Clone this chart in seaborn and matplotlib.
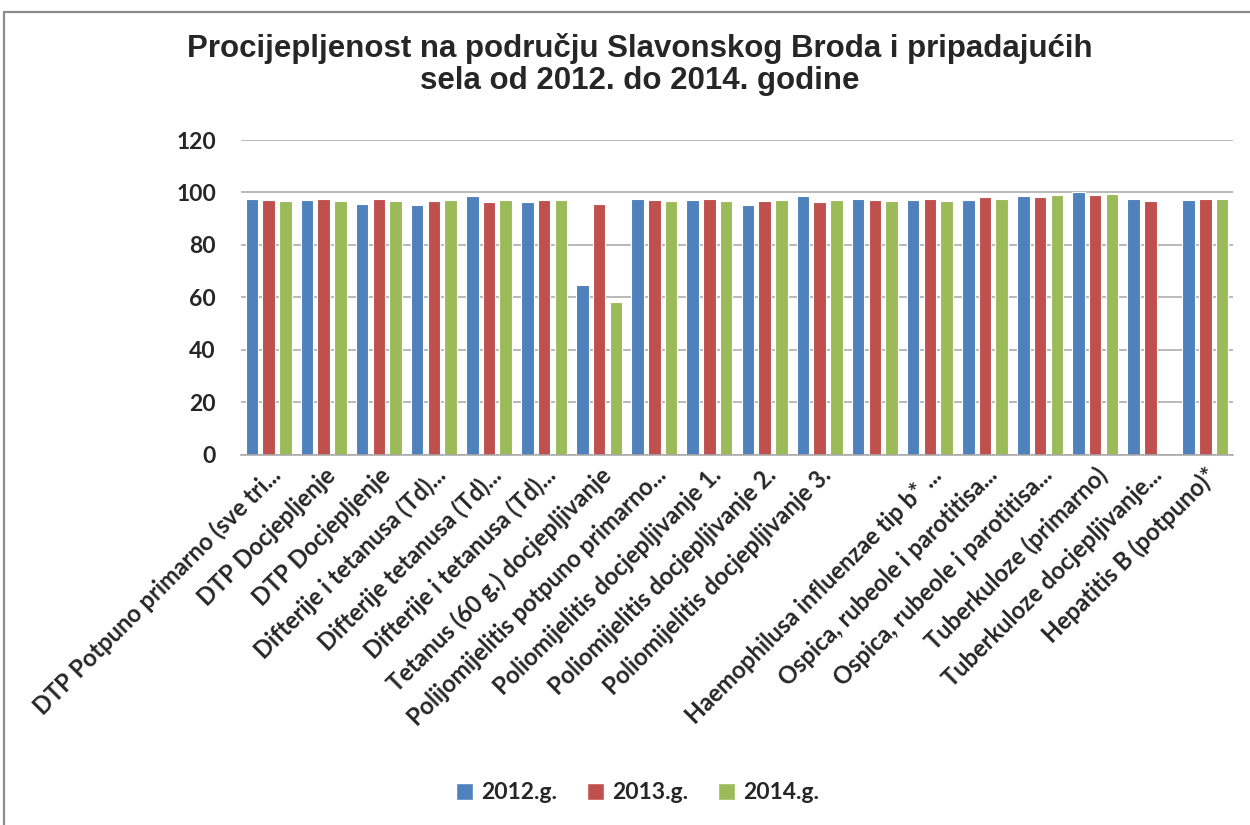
import numpy as np
import pandas as pd
import matplotlib
matplotlib.use("Agg")
import matplotlib.pyplot as plt
from matplotlib.lines import Line2D
import seaborn as sns

# Vaccination coverage (%) by vaccine, for three years
categories = [
    "DTP Potpuno primarno (sve tri...",
    "DTP Docjepljenje",
    "DTP Docjepljenje",
    "Difterije i tetanusa (Td)...",
    "Difterije tetanusa (Td)...",
    "Difterije i tetanusa (Td)...",
    "Tetanus (60 g.) docjepljivanje",
    "Polijomijelitis potpuno primarno...",
    "Poliomijelitis docjepljivanje 1.",
    "Poliomijelitis docjepljivanje 2.",
    "Poliomijelitis docjepljivanje 3.",
    " ",
    "Haemophilusa influenzae tip b* ...",
    "Ospica, rubeole i parotitisa...",
    "Ospica, rubeole i parotitisa...",
    "Tuberkuloze (primarno)",
    "Tuberkuloze docjepljivanje...",
    "Hepatitis B (potpuno)*",
]
years = ["2012.g.", "2013.g.", "2014.g."]
v2012 = [97.6, 97.1, 95.7, 95.2, 98.6, 96.2, 64.6, 97.6, 97.1, 95.2, 98.6, 97.6,
         97.1, 97.1, 98.6, 100.0, 97.6, 97.1]
v2013 = [97.1, 97.6, 97.6, 96.7, 96.2, 97.1, 95.7, 97.1, 97.6, 96.7, 96.2, 97.1,
         97.6, 98.1, 98.1, 99.1, 96.7, 97.6]
v2014 = [96.7, 96.7, 96.7, 97.1, 97.1, 97.1, 58.1, 96.7, 96.7, 97.1, 97.1, 96.7,
         96.7, 97.6, 99.1, 99.6, np.nan, 97.6]
colors = ["#4F81BD", "#C0504D", "#9BBB59"]

# Long-form table; category position used as key so repeated names stay separate
pos = list(range(len(categories)))
df = pd.DataFrame({
    "pos": pos * 3,
    "year": np.repeat(years, len(categories)),
    "value": v2012 + v2013 + v2014,
})

sns.set_style("white")
plt.rcParams["font.family"] = ["Lato", "DejaVu Sans"]

fig = plt.figure(figsize=(12.5, 8.25), dpi=100)
ax = fig.add_axes([0.1928, 0.4485, 0.7936, 0.3818])

sns.barplot(data=df, x="pos", y="value", hue="year", hue_order=years,
            palette=colors, saturation=1, width=0.91, gap=0.25,
            edgecolor="white", linewidth=0.8, errorbar=None, ax=ax, legend=True)

ax.set_ylim(0, 120)
ax.set_yticks(range(0, 121, 20))
ax.set_xlim(-0.5, len(categories) - 0.5)
ax.yaxis.grid(True, color="#A6A6A6", linewidth=1.1)
ax.set_axisbelow(True)
for side in ["left", "right", "top"]:
    ax.spines[side].set_visible(False)
ax.spines["bottom"].set_color("#A6A6A6")
ax.spines["bottom"].set_linewidth(1.1)
ax.set_xlabel("")
ax.set_ylabel("")
ax.tick_params(axis="both", length=0)
ax.tick_params(axis="y", pad=18)
for t in ax.get_yticklabels():
    t.set_fontsize(16.5)
    t.set_fontweight("bold")

ax.set_xticks(pos)
ax.set_xticklabels(categories, rotation=45, ha="right", va="top",
                   rotation_mode="anchor", fontsize=17, fontweight="bold")
ax.tick_params(axis="x", pad=6)

# Legend below the plot
ax.get_legend().remove()
handles = [plt.Rectangle((0, 0), 1, 1, facecolor=c, edgecolor="white") for c in colors]
fig.legend(handles, years, loc="center", bbox_to_anchor=(0.51, 0.039), ncol=3,
           frameon=False, handlelength=0.75, handleheight=0.75, handletextpad=0.35,
           columnspacing=1.3, prop={"weight": "bold", "size": 16.5})

# Title
fig.text(0.512, 0.922, "Procijepljenost na području Slavonskog Broda i pripadajućih\n"
         "sela od 2012. do 2014. godine", ha="center", va="center",
         fontsize=22.5, fontweight="bold", family="Liberation Sans", linespacing=1.1)

# Chart frame edges
fig.add_artist(Line2D([4 / 1250, 4 / 1250], [0, 1 - 12 / 825], color="#8C8C8C",
                      linewidth=1.6, transform=fig.transFigure))
fig.add_artist(Line2D([4 / 1250, 1], [1 - 12 / 825, 1 - 12 / 825], color="#8C8C8C",
                      linewidth=1.6, transform=fig.transFigure))

fig.savefig("out.png", dpi=100, facecolor="white")
